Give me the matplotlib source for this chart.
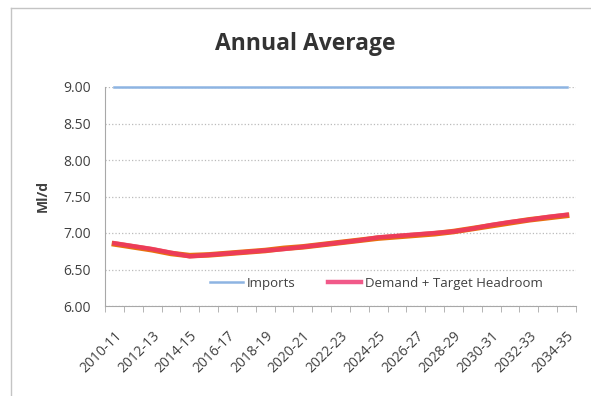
import numpy as np
import matplotlib.pyplot as plt
import matplotlib.transforms as mtransforms
from matplotlib.lines import Line2D

# financial years 2010-11 .. 2034-35
years = [f"{y}-{str(y + 1)[-2:]}" for y in range(2010, 2035)]
imports = [9.00] * len(years)
demand_headroom = [6.86, 6.82, 6.78, 6.73, 6.68, 6.70, 6.72, 6.74, 6.76, 6.78,
                   6.81, 6.84, 6.87, 6.90, 6.94, 6.96, 6.98, 7.00, 7.02, 7.06,
                   7.11, 7.15, 7.18, 7.22, 7.25]
demand = [6.85, 6.81, 6.77, 6.72, 6.69, 6.70, 6.72, 6.74, 6.76, 6.79,
          6.81, 6.84, 6.87, 6.90, 6.93, 6.95, 6.97, 6.99, 7.02, 7.06,
          7.10, 7.14, 7.18, 7.21, 7.24]
yticks = [6.0, 6.5, 7.0, 7.5, 8.0, 8.5, 9.0]

plt.rcParams['font.family'] = ['Open Sans', 'DejaVu Sans']

fig = plt.figure(figsize=(5.91, 3.96), dpi=100)
# outer chart border (only top and left edges fall inside the picture)
fig.add_artist(Line2D([11 / 591, 11 / 591], [0, 1 - 8 / 396], transform=fig.transFigure,
                      color='#c4c4c4', linewidth=1.0))
fig.add_artist(Line2D([11 / 591, 1], [1 - 8 / 396, 1 - 8 / 396], transform=fig.transFigure,
                      color='#c4c4c4', linewidth=1.0))

ax = fig.add_axes([105 / 591, 1 - 306 / 396, 471 / 591, 219 / 396])

x = np.arange(len(years))
ax.plot(x, imports, color='#8db4e2', linewidth=1.8, label='Imports', zorder=5,
        clip_on=False)
ax.plot(x, demand, color='#e8700e', linewidth=4, zorder=3)
ax.plot(x, demand_headroom, color='#ee2f6c', linewidth=3.2, alpha=0.8,
        label='Demand + Target Headroom', zorder=4)

ax.set_xlim(-0.5, len(years) - 0.5)
ax.set_ylim(6.0, 9.0)
ax.set_yticks(yticks)
ax.set_yticklabels([f"{v:.2f}" for v in yticks], fontsize=10, color='#404040')
ax.set_xticks(x[::2])
ax.set_xticklabels(years[::2], rotation=45, ha='right', va='top', rotation_mode='anchor',
                   fontsize=10, color='#404040')
shift = mtransforms.ScaledTranslation(6 / 100, 0, fig.dpi_scale_trans)
for lbl in ax.get_xticklabels():
    lbl.set_transform(lbl.get_transform() + shift)
ax.set_xticks(np.arange(-0.5, len(years)), minor=True)
ax.tick_params(axis='x', which='major', length=0, pad=16)
ax.tick_params(axis='x', which='minor', length=4, color='#a8a8a8')
ax.tick_params(axis='y', length=0, pad=10)
ax.grid(axis='y', linestyle=':', color='#bbbbbb', linewidth=0.9)
ax.set_axisbelow(True)
for side in ['top', 'right']:
    ax.spines[side].set_visible(False)
for side in ['left', 'bottom']:
    ax.spines[side].set_color('#a8a8a8')
    ax.spines[side].set_linewidth(0.8)

ax.set_ylabel('Ml/d', fontsize=10, fontweight='bold', color='#404040', labelpad=10)
fig.text(305 / 591, 1 - 44 / 396, 'Annual Average', ha='center', va='center',
         fontsize=16.5, fontweight='bold', color='#333333')

ax.legend(loc='center', bbox_to_anchor=(0.576, 0.105), ncol=2, frameon=False,
          fontsize=9.5, handlelength=2.5, columnspacing=2.4, handletextpad=0.3,
          labelcolor='#404040')

fig.savefig('out.png', dpi=100)
